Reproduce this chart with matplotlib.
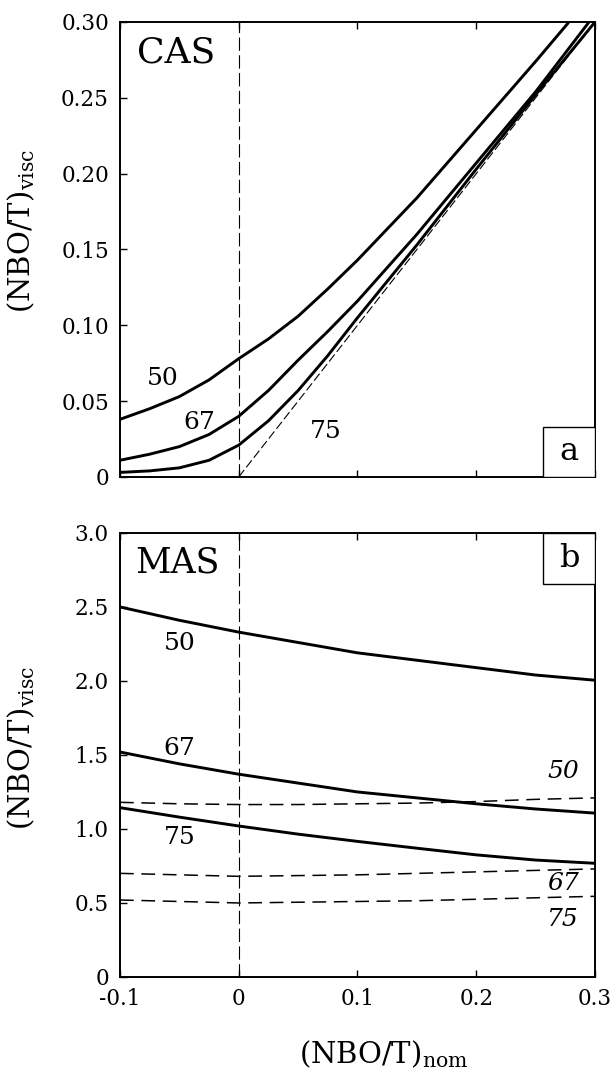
import matplotlib
matplotlib.use("Agg")
import matplotlib.pyplot as plt
from matplotlib.patches import Rectangle

plt.rcParams['font.family'] = ['DejaVu Serif']
plt.rcParams['mathtext.fontset'] = 'dejavuserif'

# panel a (CAS): solid curves for 50, 67, 75 and the dashed 1:1 line
cas_x50 = [-0.1, -0.075, -0.05, -0.025, 0.0, 0.025, 0.05, 0.075, 0.1, 0.15, 0.2, 0.25, 0.277]
cas_y50 = [0.038, 0.045, 0.053, 0.064, 0.078, 0.091, 0.106, 0.124, 0.143, 0.184, 0.229, 0.274, 0.299]
cas_x67 = [-0.1, -0.075, -0.05, -0.025, 0.0, 0.025, 0.05, 0.075, 0.1, 0.15, 0.2, 0.25, 0.294]
cas_y67 = [0.011, 0.015, 0.020, 0.028, 0.040, 0.057, 0.077, 0.096, 0.116, 0.160, 0.207, 0.254, 0.299]
cas_x75 = [-0.1, -0.075, -0.05, -0.025, 0.0, 0.025, 0.05, 0.075, 0.1, 0.15, 0.2, 0.25, 0.3]
cas_y75 = [0.003, 0.004, 0.006, 0.011, 0.021, 0.037, 0.057, 0.080, 0.105, 0.153, 0.203, 0.252, 0.300]
cas_ref_x = [0.0, 0.3]
cas_ref_y = [0.0, 0.3]

# panel b (MAS): solid and dashed curves
mas_x = [-0.1, -0.05, 0.0, 0.05, 0.1, 0.15, 0.2, 0.25, 0.3]
mas_50 = [2.50, 2.41, 2.33, 2.26, 2.19, 2.14, 2.09, 2.04, 2.005]
mas_67 = [1.52, 1.44, 1.37, 1.31, 1.25, 1.21, 1.17, 1.135, 1.107]
mas_75 = [1.144, 1.08, 1.02, 0.965, 0.916, 0.87, 0.825, 0.79, 0.768]
mas_50d = [1.18, 1.17, 1.165, 1.165, 1.17, 1.175, 1.185, 1.20, 1.21]
mas_67d = [0.70, 0.69, 0.68, 0.685, 0.69, 0.70, 0.71, 0.72, 0.73]
mas_75d = [0.52, 0.51, 0.50, 0.505, 0.51, 0.515, 0.525, 0.535, 0.545]

xticks = [-0.1, 0, 0.1, 0.2, 0.3]
xticklabels = ['-0.1', '0', '0.1', '0.2', '0.3']
cas_yticks = [0, 0.05, 0.10, 0.15, 0.20, 0.25, 0.30]
cas_yticklabels = ['0', '0.05', '0.10', '0.15', '0.20', '0.25', '0.30']
mas_yticks = [0, 0.5, 1.0, 1.5, 2.0, 2.5, 3.0]
mas_yticklabels = ['0', '0.5', '1.0', '1.5', '2.0', '2.5', '3.0']

ylab = r'(NBO/T)$_{\mathrm{visc}}$'
xlab = r'(NBO/T)$_{\mathrm{nom}}$'

fig = plt.figure(figsize=(6.15, 10.73), dpi=100)
ax1 = fig.add_axes([0.1951, 0.5555, 0.7724, 0.424])
ax2 = fig.add_axes([0.1951, 0.0895, 0.7724, 0.4138])

lw = 2.1
for ax in (ax1, ax2):
    ax.set_xlim(-0.1, 0.3)
    ax.axvline(0, color='black', lw=0.8, dashes=(12, 4))
    for s in ax.spines.values():
        s.set_linewidth(1.4)
    ax.tick_params(direction='in', length=5, width=1, labelsize=15.5, pad=8,
                   top=True, bottom=True, left=True, right=False)

ax1.set_ylabel(ylab, fontsize=21)
ax1.yaxis.set_label_coords(-0.175, 0.54)
ax2.set_ylabel(ylab, fontsize=21)
ax2.yaxis.set_label_coords(-0.175, 0.515)

# panel a
ax1.plot(cas_x50, cas_y50, color='black', lw=lw)
ax1.plot(cas_x67, cas_y67, color='black', lw=lw)
ax1.plot(cas_x75, cas_y75, color='black', lw=lw)
ax1.plot(cas_ref_x, cas_ref_y, color='black', lw=0.8, dashes=(8, 3))
ax1.set_ylim(0, 0.3)
ax1.set_xticks(xticks)
ax1.set_xticklabels([])
ax1.set_yticks(cas_yticks)
ax1.set_yticklabels(cas_yticklabels)
ax1.text(-0.086, 0.280, 'CAS', fontsize=26, va='center', ha='left')
ax1.text(-0.064, 0.065, '50', fontsize=18, ha='center', va='center')
ax1.text(-0.033, 0.036, '67', fontsize=18, ha='center', va='center')
ax1.text(0.0735, 0.030, '75', fontsize=18, ha='center', va='center')
ax1.add_patch(Rectangle((0.8905, 0.0), 0.1095, 0.11, transform=ax1.transAxes,
                        fc='white', ec='black', lw=1.0, zorder=3))
ax1.text(0.9453, 0.055, 'a', transform=ax1.transAxes, fontsize=23,
         ha='center', va='center', zorder=4)

# panel b
ax2.plot(mas_x, mas_50, color='black', lw=lw)
ax2.plot(mas_x, mas_67, color='black', lw=lw)
ax2.plot(mas_x, mas_75, color='black', lw=lw)
ax2.plot(mas_x, mas_50d, color='black', lw=1.1, dashes=(9, 5))
ax2.plot(mas_x, mas_67d, color='black', lw=1.1, dashes=(9, 5))
ax2.plot(mas_x, mas_75d, color='black', lw=1.1, dashes=(9, 5))
ax2.set_ylim(0, 3.0)
ax2.set_xticks(xticks)
ax2.set_xticklabels(xticklabels)
ax2.set_yticks(mas_yticks)
ax2.set_yticklabels(mas_yticklabels)
ax2.text(-0.0875, 2.80, 'MAS', fontsize=25, va='center', ha='left')
ax2.text(-0.05, 2.25, '50', fontsize=18, ha='center', va='center')
ax2.text(-0.05, 1.545, '67', fontsize=18, ha='center', va='center')
ax2.text(-0.05, 0.944, '75', fontsize=18, ha='center', va='center')
ax2.text(0.273, 1.39, '50', fontsize=18, ha='center', va='center', style='italic')
ax2.text(0.273, 0.63, '67', fontsize=18, ha='center', va='center', style='italic')
ax2.text(0.273, 0.386, '75', fontsize=18, ha='center', va='center', style='italic')
ax2.add_patch(Rectangle((0.8905, 0.886), 0.1095, 0.114, transform=ax2.transAxes,
                        fc='white', ec='black', lw=1.0, zorder=3))
ax2.text(0.9453, 0.943, 'b', transform=ax2.transAxes, fontsize=23,
         ha='center', va='center', zorder=4)
ax2.set_xlabel(xlab, fontsize=21)
ax2.xaxis.set_label_coords(0.556, -0.138)

fig.savefig('out.png', dpi=100)
